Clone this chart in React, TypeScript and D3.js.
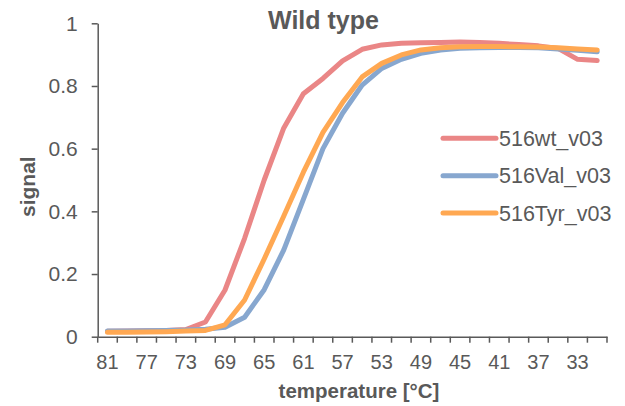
import * as d3 from 'd3'
import { useEffect, useRef } from 'react'

// temperatures, descending (x categories)
const temps = [81, 79, 77, 75, 73, 71, 69, 67, 65, 63, 61, 59, 57, 55, 53, 51, 49, 47, 45, 43, 41, 39, 37, 35, 33, 31]

const wt = [0.017, 0.018, 0.019, 0.02, 0.023, 0.047, 0.149, 0.314, 0.5, 0.666, 0.775, 0.824, 0.88, 0.917, 0.931, 0.936, 0.938, 0.939, 0.94, 0.939, 0.936, 0.932, 0.928, 0.92, 0.885, 0.881]
const val = [0.018, 0.018, 0.019, 0.02, 0.021, 0.024, 0.03, 0.062, 0.15, 0.277, 0.438, 0.6, 0.713, 0.803, 0.856, 0.885, 0.904, 0.915, 0.92, 0.922, 0.923, 0.923, 0.922, 0.918, 0.914, 0.909]
const tyr = [0.014, 0.014, 0.015, 0.016, 0.018, 0.02, 0.038, 0.117, 0.248, 0.385, 0.525, 0.652, 0.747, 0.829, 0.872, 0.899, 0.915, 0.922, 0.925, 0.926, 0.926, 0.925, 0.924, 0.922, 0.918, 0.915]

const seriesNames = ['516wt_v03', '516Val_v03', '516Tyr_v03']
const seriesColors = ['#EA8686', '#87A7CF', '#FFA852']
const yTicks = [0, 0.2, 0.4, 0.6, 0.8, 1]

const width = 625
const height = 406
const font = '"Liberation Sans", Arial, sans-serif'
const textColor = '#595959'

export default function App() {
  const series = [wt, val, tyr]

  const x = d3.scaleBand<number>().domain(temps).range([97.7, 607]).padding(0)
  const y = d3.scaleLinear().domain([0, 1]).range([336.7, 23.3])

  const line = d3.line<number>()
    .x((_, i) => (x(temps[i]) as number) + x.bandwidth() / 2)
    .y((d) => y(d))

  const gx = useRef<SVGGElement>(null)
  const gy = useRef<SVGGElement>(null)

  useEffect(() => {
    const xAxis = d3.axisBottom(x)
      .tickValues(temps.filter((_, i) => i % 2 === 0))
      .tickSize(0)
      .tickPadding(18)
    const g = d3.select(gx.current as SVGGElement).call(xAxis)
    g.select('.domain').attr('stroke', textColor).attr('stroke-width', 1.5)
    g.selectAll('text').attr('font-family', font).attr('font-size', 20).attr('fill', textColor)

    const yAxis = d3.axisLeft(y)
      .tickValues(yTicks)
      .tickFormat((d) => d3.format('~g')(d as number))
      .tickSize(6)
      .tickSizeOuter(0)
      .tickPadding(14)
    const gg = d3.select(gy.current as SVGGElement).call(yAxis)
    gg.select('.domain').attr('stroke', textColor).attr('stroke-width', 1.5)
    gg.selectAll('.tick line').attr('stroke', textColor).attr('stroke-width', 1.5)
    gg.selectAll('text').attr('font-family', font).attr('font-size', 21).attr('fill', textColor)
  }, [])

  // category boundary ticks on the x axis
  const bounds = [...temps.map((t) => x(t) as number), x.range()[1]]

  return (
    <svg width={width} height={height} style={{ position: 'absolute', left: 0, top: 0, background: '#fff' }}>
      <text x={323.5} y={29} textAnchor="middle" fontFamily={font} fontWeight="bold" fontSize={25} fill={textColor}>
        Wild type
      </text>

      <g ref={gx} transform={`translate(0,${y(0)})`} />
      {bounds.map((b, i) => (
        <line key={i} x1={b} x2={b} y1={y(0)} y2={y(0) + 6} stroke={textColor} strokeWidth={1.5} />
      ))}
      <g ref={gy} transform={`translate(${x.range()[0]},0)`} />

      {series.map((s, i) => (
        <path key={seriesNames[i]} d={line(s) as string} fill="none" stroke={seriesColors[i]}
          strokeWidth={5} strokeLinejoin="round" strokeLinecap="round" />
      ))}

      {seriesNames.map((name, i) => {
        const ly = 138.3 + i * 37.4
        return (
          <g key={name}>
            <line x1={443} x2={496} y1={ly} y2={ly} stroke={seriesColors[i]} strokeWidth={5} strokeLinecap="round" />
            <text x={499} y={ly} dy="0.36em" fontFamily={font} fontSize={21.5} fill={textColor}>{name}</text>
          </g>
        )
      })}

      <text transform="translate(35,186.7) rotate(-90)" textAnchor="middle" fontFamily={font} fontWeight="bold" fontSize={21} fill={textColor}>
        signal
      </text>
      <text x={359} y={398} textAnchor="middle" fontFamily={font} fontWeight="bold" fontSize={20.5} fill={textColor}>
        temperature [°C]
      </text>
    </svg>
  )
}
